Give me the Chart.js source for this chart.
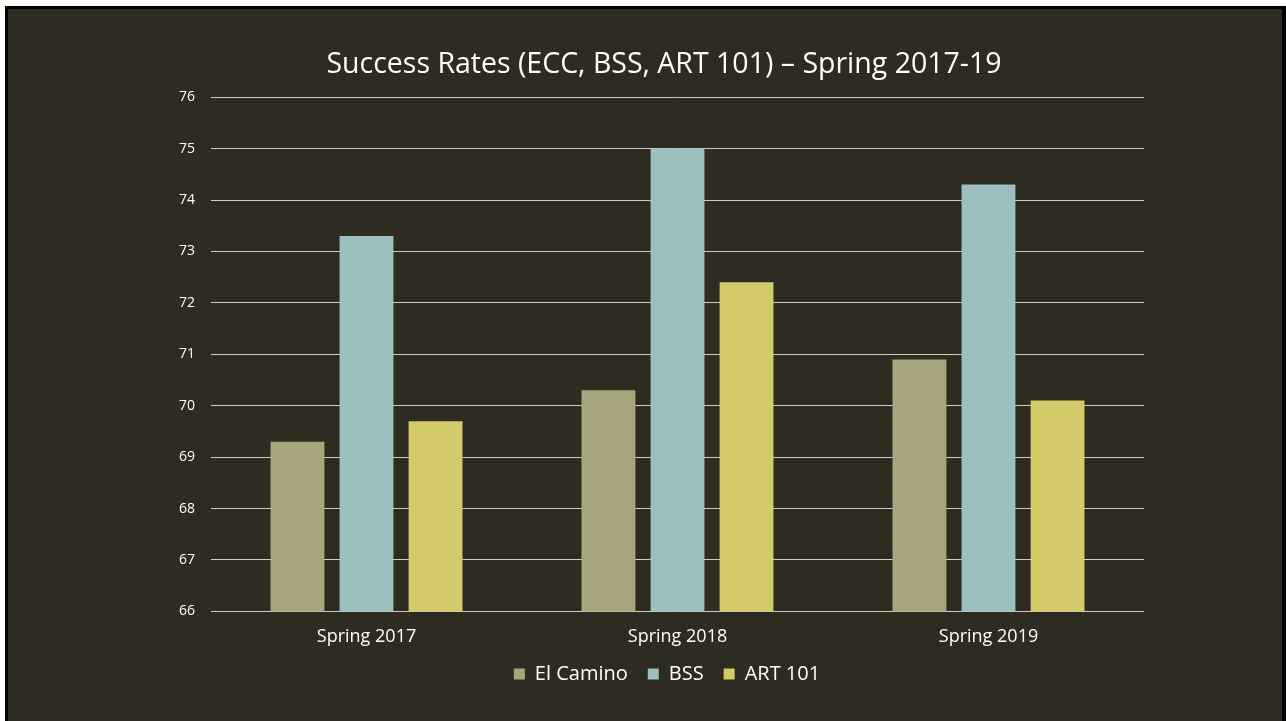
<!DOCTYPE html>
<html>
<head>
<meta charset="utf-8">
<script src="https://cdn.jsdelivr.net/npm/chart.js@4/dist/chart.umd.min.js"></script>
<style>
    html, body { margin: 0; padding: 0; background: #ffffff; overflow: hidden; }
    #frame {
        position: absolute;
        left: 5px;
        top: 6px;
        width: 1274px;
        height: 720px;
        border-left: 3px solid #000;
        border-top: 3px solid #000;
        border-right: 4px solid #000;
        background: #2e2b21;
    }
    #wrap { position: relative; width: 1274px; height: 712px; }
</style>
</head>
<body>
<div id="frame">
    <div id="wrap"><canvas id="Success-Chart"></canvas></div>
</div>
<script>
// chart data
const categories = ['Spring 2017', 'Spring 2018', 'Spring 2019'];
const elCamino = [69.3, 70.3, 70.9];
const bss = [73.3, 75.0, 74.3];
const art101 = [69.7, 72.4, 70.1];
const yMin = 66;
const yMax = 76;

const fontName = "'Open Sans', 'DejaVu Sans', sans-serif";

// pulls the legend up closer to the axis labels, and centres title/legend a bit to the right
const boxNudge = {
    id: 'boxNudge',
    afterLayout: function (chart) {
        chart.legend.top -= 19;
        chart.legend.bottom -= 19;
        chart.legend.left += 7;
        chart.legend.right += 7;
        chart.titleBlock.left += 4;
        chart.titleBlock.right += 4;
    }
};

window.onload = function () {
    var ctx = document.getElementById('Success-Chart').getContext('2d');

    var success = new Chart(ctx, {
        type: 'bar',
        data: {
            labels: categories,
            datasets: [
                {
                    label: 'El Camino',
                    data: elCamino,
                    backgroundColor: '#a9a67d',
                    borderWidth: 0
                },
                {
                    label: 'BSS',
                    data: bss,
                    backgroundColor: '#9cc0bf',
                    borderWidth: 0
                },
                {
                    label: 'ART 101',
                    data: art101,
                    backgroundColor: '#d3ca6a',
                    borderWidth: 0
                }
            ]
        },
        options: {
            responsive: true,
            maintainAspectRatio: false,
            animation: false,
            layout: {
                padding: { left: 168, right: 138, top: 0, bottom: 8 }
            },
            datasets: {
                bar: {
                    categoryPercentage: 0.666,
                    barPercentage: 0.78
                }
            },
            plugins: {
                title: {
                    display: true,
                    text: 'Success Rates (ECC, BSS, ART 101) \u2013 Spring 2017-19',
                    color: '#ffffff',
                    font: { family: fontName, size: 28.5, weight: 'normal' },
                    padding: { top: 39, bottom: 15 }
                },
                legend: {
                    position: 'bottom',
                    labels: {
                        color: '#ffffff',
                        font: { family: fontName, size: 20 },
                        boxWidth: 11,
                        boxHeight: 11,
                        padding: 20
                    }
                },
                tooltip: { enabled: false }
            },
            scales: {
                x: {
                    grid: { display: false, drawTicks: false },
                    border: { display: false },
                    ticks: {
                        color: '#ffffff',
                        font: { family: fontName, size: 18 },
                        padding: 15
                    }
                },
                y: {
                    min: yMin,
                    max: yMax,
                    afterFit: function (scale) { scale.width = 35; },
                    grid: { color: '#d0cec6', lineWidth: 1, drawTicks: false },
                    border: { display: false },
                    ticks: {
                        stepSize: 1,
                        color: '#ffffff',
                        font: { family: fontName, size: 14 },
                        padding: 16
                    }
                }
            }
        },
        plugins: [boxNudge]
    });
};
</script>
</body>
</html>
